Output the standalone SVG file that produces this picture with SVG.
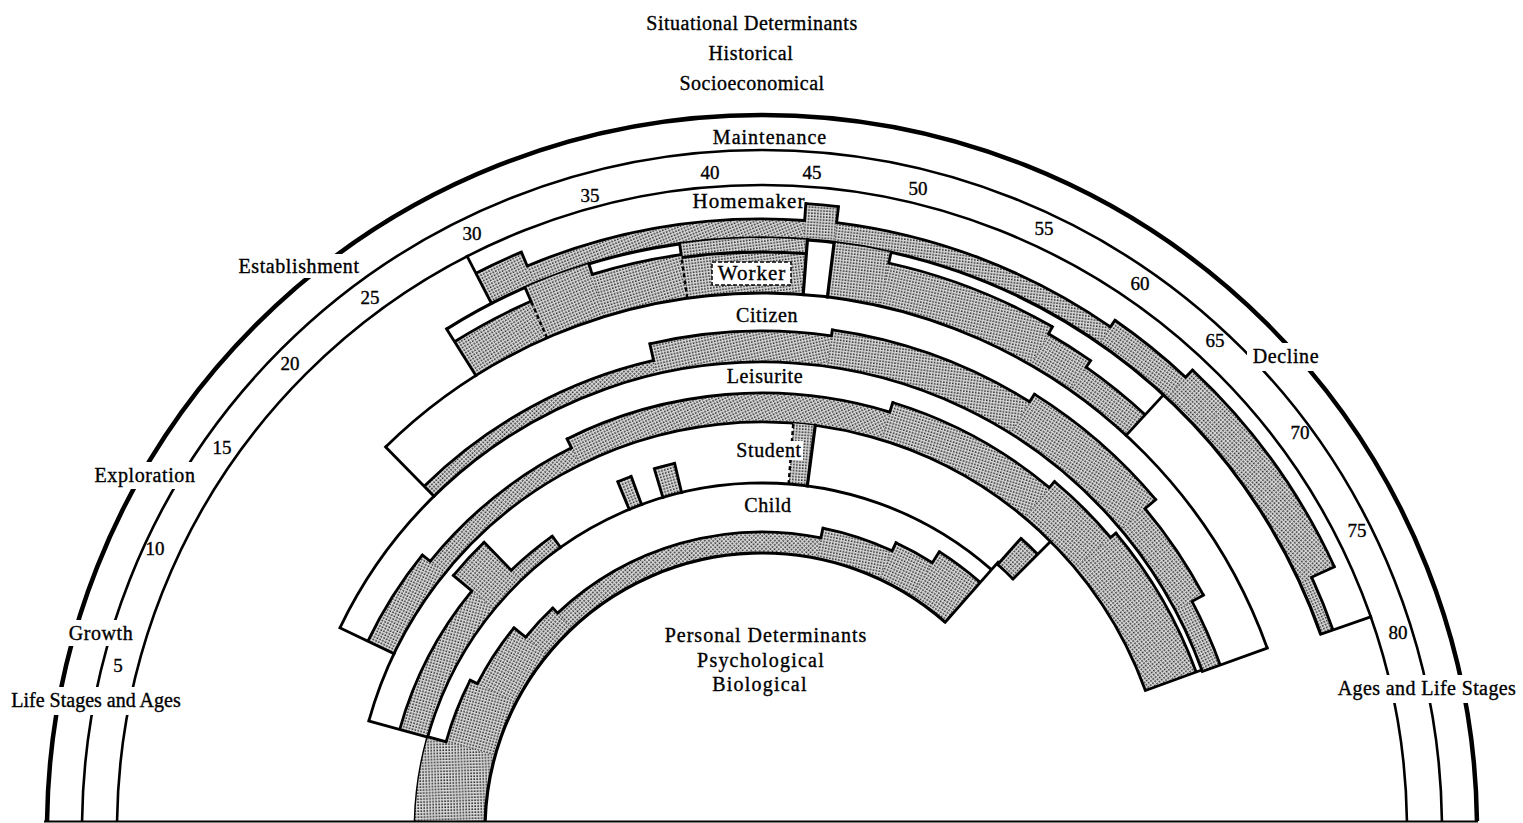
<svg xmlns="http://www.w3.org/2000/svg" width="1523" height="823" viewBox="0 0 1523 823">
<defs>
<style>
.t{font-family:"Liberation Serif","Times New Roman",serif;font-size:20px;fill:#000;stroke:#000;stroke-width:0.35;text-anchor:middle;letter-spacing:0.6px}
.n{font-size:19px;letter-spacing:0}
.a{fill:none;stroke:#000;stroke-width:2.8}
.r{stroke:#000;stroke-width:2.8;stroke-linecap:square}
.d{stroke:#000;stroke-width:2.4;stroke-dasharray:4 3}
.s{fill:none;stroke:url(#dots)}
.w{fill:#fff}
</style>
<pattern id="dots" width="3" height="3" patternUnits="userSpaceOnUse"><rect width="3" height="3" fill="#dadada"/><rect width="1.6" height="1.6" fill="#2a2a2a"/></pattern>
<clipPath id="clip"><rect width="1523" height="821"/></clipPath>
</defs>
<rect width="1523" height="823" fill="#fff"/>
<g id="title">
<text class="t" x="752" y="30" style="letter-spacing:0.5px">Situational Determinants</text>
<text class="t" x="751" y="60">Historical</text>
<text class="t" x="752" y="90" style="letter-spacing:0.5px">Socioeconomical</text>
</g>
<g clip-path="url(#clip)">
<g id="stage-arcs" transform="translate(762,830)">
<circle class="a" r="715" style="stroke-width:4.5"/>
<circle class="a" r="680" style="stroke-width:2.6"/>
<circle class="a" r="645" style="stroke-width:2.6"/>
</g>
<g transform="translate(762,830)">
<g id="homemaker">
<circle class="s" r="609" stroke-width="34" stroke-dasharray="49.5 5000" transform="rotate(-117.2)"/>
<circle class="s" r="601.5" stroke-width="19" stroke-dasharray="279.8 5000" transform="rotate(-112.6)"/>
<circle class="s" r="610" stroke-width="36" stroke-dasharray="32.5 5000" transform="rotate(-86)"/>
<circle class="s" r="602" stroke-width="20" stroke-dasharray="291.6 5000" transform="rotate(-83)"/>
<circle class="s" r="606" stroke-width="28" stroke-dasharray="89.4 5000" transform="rotate(-55.3)"/>
<circle class="s" r="611" stroke-width="38" stroke-dasharray="237.3 5000" transform="rotate(-46.9)"/>
<circle class="s" r="598.5" stroke-width="13" stroke-dasharray="56.4 5000" transform="rotate(-24.7)"/>
<circle class="a" r="592" stroke-dasharray="1063.2 5000" transform="rotate(-122.2)" style="stroke-width:3.2"/>
<circle class="a" r="626" stroke-dasharray="50.26 5000" transform="rotate(-117.2)"/>
<circle class="a" r="611" stroke-dasharray="283.66 5000" transform="rotate(-112.6)"/>
<circle class="a" r="628" stroke-dasharray="32.88 5000" transform="rotate(-86)"/>
<circle class="a" r="612" stroke-dasharray="295.87 5000" transform="rotate(-83)"/>
<circle class="a" r="620" stroke-dasharray="90.9 5000" transform="rotate(-55.3)"/>
<circle class="a" r="630" stroke-dasharray="244.1 5000" transform="rotate(-46.9)"/>
<circle class="a" r="605" stroke-dasharray="57.02 5000" transform="rotate(-24.7)"/>
<line class="r" x1="592" x2="645" transform="rotate(-117.2)"/>
<line class="r" x1="592" x2="645" transform="rotate(-19.3)"/>
<line class="r" x1="611" x2="626" transform="rotate(-112.6)"/>
<line class="r" x1="611" x2="628" transform="rotate(-86)"/>
<line class="r" x1="612" x2="628" transform="rotate(-83)"/>
<line class="r" x1="612" x2="620" transform="rotate(-55.3)"/>
<line class="r" x1="620" x2="630" transform="rotate(-46.9)"/>
<line class="r" x1="605" x2="630" transform="rotate(-24.7)"/>
</g>
<g id="worker">
<circle class="s" r="557" stroke-width="40" stroke-dasharray="84.2 5000" transform="rotate(-122.2)"/>
<circle class="s" r="564.5" stroke-width="55" stroke-dasharray="65.6 5000" transform="rotate(-113.6)"/>
<circle class="s" r="559" stroke-width="44" stroke-dasharray="88.4 5000" transform="rotate(-107)"/>
<circle class="s" r="564.5" stroke-width="55" stroke-dasharray="122.2 5000" transform="rotate(-98)"/>
<circle class="s" r="564.5" stroke-width="55" stroke-dasharray="55.8 5000" transform="rotate(-83)"/>
<circle class="s" r="559" stroke-width="44" stroke-dasharray="170.3 5000" transform="rotate(-77.4)"/>
<circle class="s" r="555" stroke-width="36" stroke-dasharray="49 5000" transform="rotate(-60)"/>
<circle class="s" r="551" stroke-width="28" stroke-dasharray="74.05 5000" transform="rotate(-55)"/>
<circle class="a" r="537" stroke-dasharray="1075 5000" transform="rotate(-134.5)"/>
<circle class="a" r="577" stroke-dasharray="86.61 5000" transform="rotate(-122.2)"/>
<circle class="a" r="581" stroke-dasharray="91.26 5000" transform="rotate(-107)"/>
<circle class="a" r="578" stroke-dasharray="125.09 5000" transform="rotate(-98)"/>
<circle class="a" r="581" stroke-dasharray="176.44 5000" transform="rotate(-77.4)"/>
<circle class="a" r="573" stroke-dasharray="50 5000" transform="rotate(-60)"/>
<circle class="a" r="565" stroke-dasharray="75.93 5000" transform="rotate(-55)"/>
<line class="r" x1="537" x2="592" transform="rotate(-122.2)"/>
<line class="r" x1="537" x2="592" transform="rotate(-47.3)"/>
<line class="r" x1="577" x2="592" transform="rotate(-113.6)"/>
<line class="r" x1="581" x2="592" transform="rotate(-107)"/>
<line class="r" x1="581" x2="592" transform="rotate(-98)"/>
<line class="r" x1="581" x2="592" transform="rotate(-77.4)"/>
<line class="r" x1="573" x2="581" transform="rotate(-60)"/>
<line class="r" x1="565" x2="573" transform="rotate(-55)"/>
<line class="r" x1="537" x2="592" transform="rotate(-85.6)" style="stroke-width:3.2"/>
<line class="r" x1="537" x2="592" transform="rotate(-83)" style="stroke-width:3.2"/>
<line class="d" x1="537" x2="577" transform="rotate(-113.6)"/>
<line class="d" x1="537" x2="578" transform="rotate(-98)"/>
</g>
<g id="citizen">
<circle class="s" r="475" stroke-width="14" stroke-dasharray="261.7 5000" transform="rotate(-134.5)"/>
<circle class="s" r="483.5" stroke-width="31" stroke-dasharray="177.8 5000" transform="rotate(-103)"/>
<circle class="s" r="486.5" stroke-width="37" stroke-dasharray="204.4 5000" transform="rotate(-82)"/>
<circle class="s" r="491" stroke-width="46" stroke-dasharray="154.8 5000" transform="rotate(-58)"/>
<circle class="s" r="484" stroke-width="32" stroke-dasharray="101.9 5000" transform="rotate(-40)"/>
<circle class="s" r="477.5" stroke-width="19" stroke-dasharray="68.34 5000" transform="rotate(-28)"/>
<circle class="a" r="468" stroke-dasharray="1099.43 5000" transform="rotate(-154.4)"/>
<circle class="a" r="482" stroke-dasharray="264.99 5000" transform="rotate(-134.5)"/>
<circle class="a" r="499" stroke-dasharray="182.89 5000" transform="rotate(-103)"/>
<circle class="a" r="505" stroke-dasharray="211.53 5000" transform="rotate(-82)"/>
<circle class="a" r="514" stroke-dasharray="161.48 5000" transform="rotate(-58)"/>
<circle class="a" r="500" stroke-dasharray="104.72 5000" transform="rotate(-40)"/>
<circle class="a" r="487" stroke-dasharray="69.7 5000" transform="rotate(-28)"/>
<line class="r" x1="468" x2="537" transform="rotate(-134.5)"/>
<line class="r" x1="468" x2="537" transform="rotate(-19.8)"/>
<line class="r" x1="482" x2="499" transform="rotate(-103)"/>
<line class="r" x1="499" x2="505" transform="rotate(-82)"/>
<line class="r" x1="505" x2="514" transform="rotate(-58)"/>
<line class="r" x1="500" x2="514" transform="rotate(-40)"/>
<line class="r" x1="487" x2="500" transform="rotate(-28)"/>
</g>
<g id="leisurite">
<circle class="s" r="422.5" stroke-width="29" stroke-dasharray="99.4 5000" transform="rotate(-154.4)"/>
<circle class="s" r="417.5" stroke-width="19" stroke-dasharray="179.1 5000" transform="rotate(-141)"/>
<circle class="s" r="422.5" stroke-width="29" stroke-dasharray="321.4 5000" transform="rotate(-116.5)"/>
<circle class="s" r="427.5" stroke-width="39" stroke-dasharray="172.2 5000" transform="rotate(-73)"/>
<circle class="s" r="431.5" stroke-width="47" stroke-dasharray="75.9 5000" transform="rotate(-50)"/>
<circle class="s" r="435" stroke-width="54" stroke-dasharray="151.84 5000" transform="rotate(-40)"/>
<circle class="a" r="408" stroke-dasharray="1028.98 5000" transform="rotate(-164.5)"/>
<circle class="a" r="437" stroke-dasharray="102.2 5000" transform="rotate(-154.4)"/>
<circle class="a" r="427" stroke-dasharray="182.59 5000" transform="rotate(-141)"/>
<circle class="a" r="437" stroke-dasharray="331.78 5000" transform="rotate(-116.5)"/>
<circle class="a" r="447" stroke-dasharray="179.44 5000" transform="rotate(-73)"/>
<circle class="a" r="455" stroke-dasharray="79.41 5000" transform="rotate(-50)"/>
<circle class="a" r="462" stroke-dasharray="161.27 5000" transform="rotate(-40)"/>
<line class="r" x1="408" x2="468" transform="rotate(-154.4)"/>
<line class="r" x1="408" x2="468" transform="rotate(-20)"/>
<line class="r" x1="427" x2="437" transform="rotate(-141)"/>
<line class="r" x1="427" x2="437" transform="rotate(-116.5)"/>
<line class="r" x1="437" x2="447" transform="rotate(-73)"/>
<line class="r" x1="447" x2="455" transform="rotate(-50)"/>
<line class="r" x1="455" x2="462" transform="rotate(-40)"/>
</g>
<g id="student">
<circle class="s" r="361.5" stroke-width="29" stroke-dasharray="152 5000" transform="rotate(-164.5)"/>
<circle class="s" r="373.5" stroke-width="53" stroke-dasharray="43 5000" transform="rotate(-140.5)"/>
<circle class="s" r="354" stroke-width="14" stroke-dasharray="52.52 5000" transform="rotate(-134)"/>
<circle class="s" r="362" stroke-width="30" stroke-dasharray="13.9 5000" transform="rotate(-112.5)"/>
<circle class="s" r="362" stroke-width="30" stroke-dasharray="20.22 5000" transform="rotate(-106.6)"/>
<circle class="s" r="377.5" stroke-width="61" stroke-dasharray="20.42 5000" transform="rotate(-85.6)"/>
<circle class="s" r="372.5" stroke-width="35" stroke-dasharray="22.1 5000" transform="rotate(-48.4)"/>
<circle class="a" r="347" stroke-dasharray="807.91 5000" transform="rotate(-182)"/>
<circle class="a" r="376" stroke-dasharray="157.5 5000" transform="rotate(-164.5)"/>
<circle class="a" r="400" stroke-dasharray="45.38 5000" transform="rotate(-140.5)"/>
<circle class="a" r="361" stroke-dasharray="53.56 5000" transform="rotate(-134)"/>
<line class="r" x1="347" x2="408" transform="rotate(-164.5)"/>
<line class="r" x1="376" x2="400" transform="rotate(-140.5)"/>
<line class="r" x1="361" x2="400" transform="rotate(-134)"/>
<line class="r" x1="347" x2="361" transform="rotate(-125.5)"/>
<circle class="a" r="377" stroke-dasharray="14.48 5000" transform="rotate(-112.5)"/>
<line class="r" x1="347" x2="377" transform="rotate(-112.5)"/>
<line class="r" x1="347" x2="377" transform="rotate(-110.3)"/>
<circle class="a" r="377" stroke-dasharray="21.06 5000" transform="rotate(-106.6)"/>
<line class="r" x1="347" x2="377" transform="rotate(-106.6)"/>
<line class="r" x1="347" x2="377" transform="rotate(-103.4)"/>
<line class="r" x1="347" x2="408" transform="rotate(-82.5)" style="stroke-width:3.2"/>
<line class="d" x1="347" x2="408" transform="rotate(-85.6)"/>
<circle class="a" r="390" stroke-dasharray="23.14 5000" transform="rotate(-48.4)"/>
<circle class="a" r="355" stroke-dasharray="21.07 5000" transform="rotate(-48.4)"/>
<line class="r" x1="355" x2="390" transform="rotate(-48.4)"/>
<line class="r" x1="355" x2="408" transform="rotate(-45)"/>
</g>
<g id="child">
<circle class="s" r="312" stroke-width="70" stroke-dasharray="96.4 5000" transform="rotate(-182)"/>
<circle class="s" r="302.5" stroke-width="51" stroke-dasharray="61.8 5000" transform="rotate(-164.4)"/>
<circle class="s" r="298.5" stroke-width="43" stroke-dasharray="63.1 5000" transform="rotate(-152.8)"/>
<circle class="s" r="291" stroke-width="28" stroke-dasharray="38.7 5000" transform="rotate(-140.8)"/>
<circle class="s" r="287.5" stroke-width="21" stroke-dasharray="275 5000" transform="rotate(-133.3)"/>
<circle class="s" r="292.5" stroke-width="31" stroke-dasharray="70 5000" transform="rotate(-78.6)"/>
<circle class="s" r="297" stroke-width="40" stroke-dasharray="39.4 5000" transform="rotate(-65)"/>
<circle class="s" r="303.5" stroke-width="53" stroke-dasharray="47.14 5000" transform="rotate(-57.5)"/>
<circle class="a" r="277" stroke-dasharray="644.93 5000" transform="rotate(-182)" style="stroke-width:3.2"/>
<circle class="a" r="328" stroke-dasharray="66.41 5000" transform="rotate(-164.4)"/>
<circle class="a" r="320" stroke-dasharray="67.02 5000" transform="rotate(-152.8)"/>
<circle class="a" r="305" stroke-dasharray="39.92 5000" transform="rotate(-140.8)"/>
<circle class="a" r="298" stroke-dasharray="284.5 5000" transform="rotate(-133.3)"/>
<circle class="a" r="308" stroke-dasharray="73.11 5000" transform="rotate(-78.6)"/>
<circle class="a" r="317" stroke-dasharray="41.5 5000" transform="rotate(-65)"/>
<circle class="a" r="330" stroke-dasharray="51.26 5000" transform="rotate(-57.5)"/>
<line class="r" x1="328" x2="347" transform="rotate(-164.4)"/>
<line class="r" x1="320" x2="328" transform="rotate(-152.8)"/>
<line class="r" x1="305" x2="320" transform="rotate(-140.8)"/>
<line class="r" x1="298" x2="305" transform="rotate(-133.3)"/>
<line class="r" x1="298" x2="308" transform="rotate(-78.6)"/>
<line class="r" x1="308" x2="317" transform="rotate(-65)"/>
<line class="r" x1="317" x2="330" transform="rotate(-57.5)"/>
<line class="r" x1="277" x2="357" transform="rotate(-48.6)"/>
</g>
</g>
</g>
<line x1="44" y1="821.5" x2="1478" y2="821.5" stroke="#000" stroke-width="2"/>
<g id="stage-labels">
<rect class="w" x="236" y="254" width="126" height="24"/>
<text class="t" x="299" y="273">Establishment</text>
<rect class="w" x="91" y="462" width="108" height="27"/>
<text class="t" x="145" y="482">Exploration</text>
<rect class="w" x="66" y="620" width="70" height="26"/>
<text class="t" x="101" y="640">Growth</text>
<rect class="w" x="6" y="687" width="181" height="28"/>
<text class="t" x="96" y="707" style="letter-spacing:0">Life Stages and Ages</text>
<rect class="w" x="1247" y="343" width="76" height="28"/>
<text class="t" x="1286" y="363">Decline</text>
<rect class="w" x="1333" y="675" width="188" height="28"/>
<text class="t" x="1427" y="695" style="letter-spacing:0.4px">Ages and Life Stages</text>
<text class="t" x="770" y="144" style="letter-spacing:1px">Maintenance</text>
</g>
<g id="ages">
<text class="t n" x="118" y="672">5</text>
<text class="t n" x="155" y="555">10</text>
<text class="t n" x="222" y="454">15</text>
<text class="t n" x="290" y="370">20</text>
<text class="t n" x="370" y="304">25</text>
<text class="t n" x="472" y="240">30</text>
<text class="t n" x="590" y="202">35</text>
<text class="t n" x="710" y="179">40</text>
<text class="t n" x="812" y="179">45</text>
<text class="t n" x="918" y="195">50</text>
<text class="t n" x="1044" y="235">55</text>
<text class="t n" x="1140" y="290">60</text>
<text class="t n" x="1215" y="347">65</text>
<text class="t n" x="1300" y="439">70</text>
<text class="t n" x="1357" y="537">75</text>
<text class="t n" x="1398" y="639">80</text>
</g>
<g id="role-labels">
<text class="t" x="749" y="208" style="font-size:21px;letter-spacing:1px">Homemaker</text>
<rect x="712" y="262" width="79" height="23" fill="#fff" stroke="#000" stroke-width="1.5" stroke-dasharray="4 2"/>
<text class="t" x="752" y="280" style="font-size:21px;letter-spacing:1px">Worker</text>
<text class="t" x="767" y="322">Citizen</text>
<text class="t" x="765" y="383">Leisurite</text>
<rect class="w" x="733" y="441" width="70" height="19"/>
<text class="t" x="769" y="457">Student</text>
<text class="t" x="768" y="512">Child</text>
</g>
<g id="personal">
<text class="t" x="766" y="642" style="letter-spacing:1px">Personal Determinants</text>
<text class="t" x="761" y="667" style="letter-spacing:1.2px">Psychological</text>
<text class="t" x="760" y="691" style="letter-spacing:1.2px">Biological</text>
</g>
</svg>
